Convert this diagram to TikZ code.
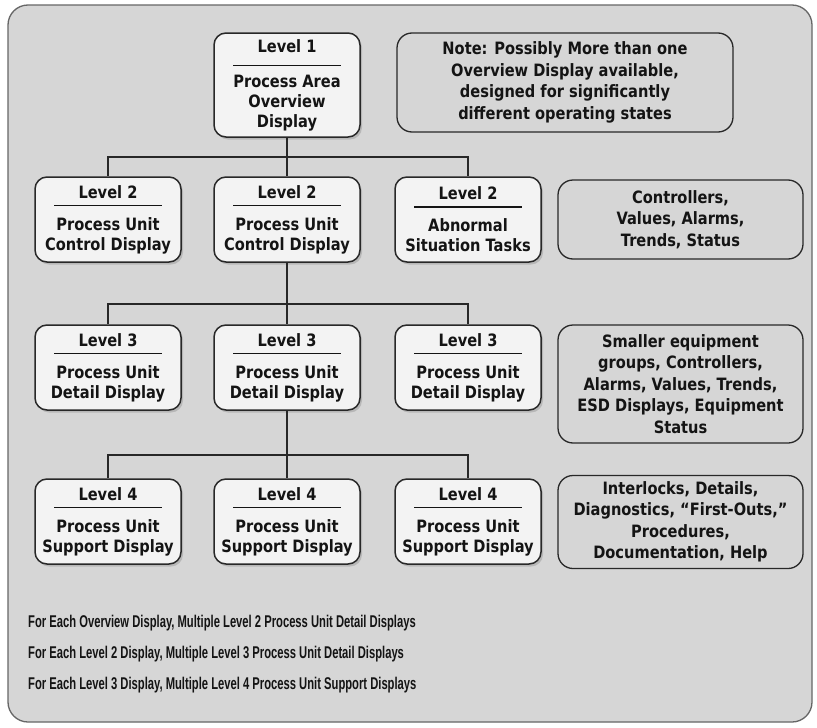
\documentclass[tikz,border=0pt]{standalone}
\usepackage{fontspec}
\setmainfont{DejaVu Sans}[FakeStretch=0.86]
\newfontfamily\narrowfont{Liberation Sans}[FakeStretch=0.66]
\usetikzlibrary{shadows}

\definecolor{panelgray}{RGB}{214,214,214}
\definecolor{boxwhite}{RGB}{243,243,243}
\definecolor{inkgray}{RGB}{40,40,40}
\definecolor{textblack}{RGB}{20,20,20}

% underline between the level number and the display name
\newcommand{\levelrule}{\\[-12pt]\rule{108pt}{1.5pt}\\[4pt]}

\begin{document}
\begin{tikzpicture}[x=1pt,y=-1pt]
    \tikzstyle{display}=[draw=inkgray,line width=1.5pt,fill=boxwhite,rounded corners=12pt,
        minimum width=146pt,minimum height=85pt,inner sep=0pt,align=center,text=textblack,
        font=\fontsize{17}{20}\selectfont\bfseries,
        drop shadow={shadow xshift=2pt,shadow yshift=-2.5pt,opacity=0.35}]
    \tikzstyle{info}=[draw=inkgray,line width=1.3pt,fill=panelgray,rounded corners=15pt,
        minimum width=245pt,inner sep=0pt,align=center,text=textblack,
        font=\fontsize{17}{21.5}\selectfont\bfseries]
    \tikzstyle{bus}=[draw=inkgray,line width=1.5pt]
    \tikzstyle{footline}=[anchor=base west,inner sep=0pt,text=textblack,
        font=\narrowfont\fontsize{17}{20}\selectfont\bfseries]

    \useasboundingbox (0,0) rectangle (817,728);
    \draw[draw=black!60,line width=1.3pt,fill=panelgray,rounded corners=20pt] (8,5) rectangle (812,722);

    % level 1
    \node[display,minimum height=104pt] (l1) at (287,85)
        {Level 1\\[-6pt]\rule{108pt}{1.5pt}\\[1pt]Process Area\\Overview\\Display};
    \node[info,minimum width=336pt,minimum height=99pt] (note) at (565,82.5)
        {Note: Possibly More than one\\Overview Display available,\\designed for significantly\\different operating states};

    % level 2
    \node[display] (l2a) at (108,219.5) {Level 2\levelrule Process Unit\\Control Display};
    \node[display] (l2b) at (287,219.5) {Level 2\levelrule Process Unit\\Control Display};
    \node[display] (l2c) at (468,219.5) {Level 2\levelrule Abnormal\\Situation Tasks};
    \node[info,minimum height=79pt] (info2) at (680.5,219.5) {Controllers,\\Values, Alarms,\\Trends, Status};

    % level 3
    \node[display] (l3a) at (108,367.5) {Level 3\levelrule Process Unit\\Detail Display};
    \node[display] (l3b) at (287,367.5) {Level 3\levelrule Process Unit\\Detail Display};
    \node[display] (l3c) at (468,367.5) {Level 3\levelrule Process Unit\\Detail Display};
    \node[info,minimum height=118pt] (info3) at (680.5,384)
        {Smaller equipment\\groups, Controllers,\\Alarms, Values, Trends,\\ESD Displays, Equipment\\Status};

    % level 4
    \node[display] (l4a) at (108,521.5) {Level 4\levelrule Process Unit\\Support Display};
    \node[display] (l4b) at (287,521.5) {Level 4\levelrule Process Unit\\Support Display};
    \node[display] (l4c) at (468,521.5) {Level 4\levelrule Process Unit\\Support Display};
    \node[info,minimum height=93pt] (info4) at (680.5,522)
        {Interlocks, Details,\\Diagnostics, “First-Outs,”\\Procedures,\\Documentation, Help};

    % tree connectors
    \coordinate (bus1) at (287,157);
    \coordinate (bus2) at (287,304);
    \coordinate (bus3) at (287,455);
    \draw[bus] (l1.south) -- (bus1) -| (l2a.north);
    \draw[bus] (bus1) -| (l2c.north);
    \draw[bus] (bus1) -- (l2b.north);
    \draw[bus] (l2b.south) -- (bus2) -| (l3a.north);
    \draw[bus] (bus2) -| (l3c.north);
    \draw[bus] (bus2) -- (l3b.north);
    \draw[bus] (l3b.south) -- (bus3) -| (l4a.north);
    \draw[bus] (bus3) -| (l4c.north);
    \draw[bus] (bus3) -- (l4b.north);

    % notes under the tree
    \node[footline] (rule1) at (28,627) {For Each Overview Display, Multiple Level 2 Process Unit Detail Displays};
    \node[footline] (rule2) at (28,658) {For Each Level 2 Display, Multiple Level 3 Process Unit Detail Displays};
    \node[footline] (rule3) at (28,689) {For Each Level 3 Display, Multiple Level 4 Process Unit Support Displays};
\end{tikzpicture}
\end{document}
